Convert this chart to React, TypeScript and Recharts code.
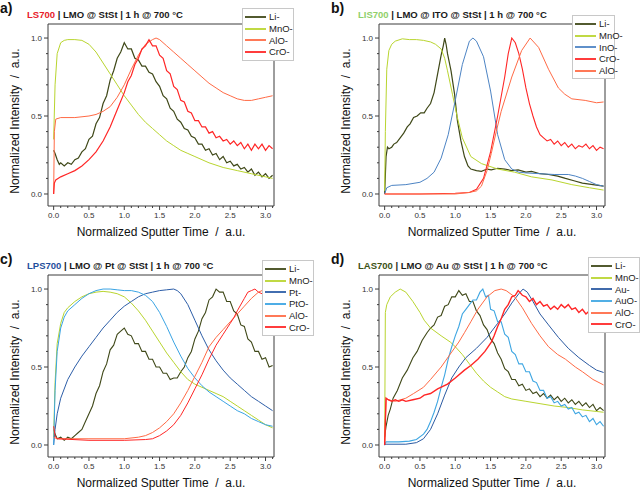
import React from 'react'
import { LineChart, Line, XAxis, YAxis, ReferenceLine } from 'recharts'

type Pt = [number, number]

// shared axis settings
const X_MIN = -0.08
const X_MAX = 3.12
const Y_MIN = -0.077
const Y_MAX = 1.09
const X_TICKS = [0, 0.1, 0.2, 0.3, 0.4, 0.5, 0.6, 0.7, 0.8, 0.9, 1, 1.1, 1.2, 1.3, 1.4, 1.5, 1.6, 1.7, 1.8, 1.9, 2, 2.1, 2.2, 2.3, 2.4, 2.5, 2.6, 2.7, 2.8, 2.9, 3, 3.1]
const X_LABELS = [0, 0.5, 1, 1.5, 2, 2.5, 3]
const Y_TICKS = [0, 0.1, 0.2, 0.3, 0.4, 0.5, 0.6, 0.7, 0.8, 0.9, 1]
const Y_LABELS = [0, 0.5, 1]

// colours
const LI = '#3f4818'
const MNO = '#b9d52f'
const ALO = '#ff6a45'
const CRO = '#ff2626'
const INO = '#4d84c4'
const PT = '#2d5ea8'
const PTO = '#3aa4e4'
const AU = '#2b5aa2'
const AUO = '#3ea6e2'

// ---- a) LS700 ----
const liA: Pt[] = [[0, 0.28], [0.02, 0.26], [0.05, 0.22], [0.08, 0.19], [0.1, 0.2], [0.15, 0.18], [0.2, 0.2], [0.25, 0.19], [0.3, 0.22], [0.35, 0.23], [0.4, 0.27], [0.45, 0.29], [0.5, 0.35], [0.55, 0.37], [0.6, 0.45], [0.65, 0.49], [0.7, 0.58], [0.75, 0.63], [0.8, 0.73], [0.85, 0.79], [0.9, 0.87], [0.95, 0.91], [1.0, 0.97], [1.05, 0.93], [1.1, 0.93], [1.15, 0.87], [1.2, 0.86], [1.25, 0.82], [1.3, 0.82], [1.35, 0.78], [1.4, 0.77], [1.45, 0.72], [1.5, 0.69], [1.55, 0.63], [1.6, 0.61], [1.65, 0.55], [1.7, 0.53], [1.75, 0.48], [1.8, 0.46], [1.85, 0.42], [1.9, 0.41], [1.95, 0.37], [2.0, 0.36], [2.05, 0.32], [2.1, 0.32], [2.15, 0.28], [2.2, 0.29], [2.25, 0.25], [2.3, 0.26], [2.35, 0.22], [2.4, 0.24], [2.45, 0.2], [2.5, 0.21], [2.55, 0.18], [2.6, 0.19], [2.65, 0.16], [2.7, 0.17], [2.75, 0.14], [2.8, 0.16], [2.85, 0.12], [2.9, 0.14], [2.95, 0.11], [3.0, 0.13], [3.05, 0.1], [3.1, 0.12]]
const mnoA: Pt[] = [[0, 0.35], [0.02, 0.7], [0.05, 0.9], [0.1, 0.97], [0.15, 0.985], [0.2, 0.99], [0.3, 0.99], [0.4, 0.985], [0.5, 0.96], [0.6, 0.91], [0.7, 0.84], [0.8, 0.77], [0.9, 0.7], [1.0, 0.63], [1.1, 0.57], [1.2, 0.51], [1.3, 0.46], [1.4, 0.42], [1.5, 0.38], [1.6, 0.34], [1.7, 0.31], [1.8, 0.28], [1.9, 0.26], [2.0, 0.24], [2.2, 0.2], [2.4, 0.17], [2.6, 0.15], [2.8, 0.13], [3.0, 0.11], [3.1, 0.1]]
const aloA: Pt[] = [[0, 0], [0.01, 0.4], [0.03, 0.48], [0.1, 0.49], [0.3, 0.49], [0.5, 0.5], [0.6, 0.51], [0.7, 0.53], [0.8, 0.56], [0.9, 0.62], [1.0, 0.7], [1.1, 0.8], [1.2, 0.89], [1.3, 0.96], [1.4, 0.99], [1.45, 1.0], [1.5, 0.99], [1.6, 0.95], [1.7, 0.91], [1.8, 0.87], [1.9, 0.83], [2.0, 0.79], [2.1, 0.75], [2.2, 0.71], [2.3, 0.68], [2.4, 0.65], [2.5, 0.63], [2.6, 0.61], [2.7, 0.6], [2.8, 0.6], [2.9, 0.61], [3.0, 0.62], [3.1, 0.63]]
const croA: Pt[] = [[0, 0], [0.01, 0.07], [0.03, 0.09], [0.1, 0.11], [0.2, 0.13], [0.3, 0.15], [0.4, 0.18], [0.5, 0.22], [0.6, 0.27], [0.7, 0.34], [0.8, 0.43], [0.9, 0.54], [1.0, 0.65], [1.05, 0.72], [1.1, 0.76], [1.15, 0.83], [1.2, 0.87], [1.25, 0.93], [1.3, 0.95], [1.35, 0.99], [1.4, 0.95], [1.45, 0.95], [1.5, 0.89], [1.55, 0.87], [1.6, 0.79], [1.65, 0.77], [1.7, 0.69], [1.75, 0.67], [1.8, 0.6], [1.85, 0.59], [1.9, 0.53], [1.95, 0.52], [2.0, 0.47], [2.05, 0.47], [2.1, 0.43], [2.15, 0.43], [2.2, 0.39], [2.25, 0.4], [2.3, 0.36], [2.35, 0.37], [2.4, 0.34], [2.45, 0.35], [2.5, 0.32], [2.55, 0.34], [2.6, 0.31], [2.65, 0.33], [2.7, 0.29], [2.75, 0.32], [2.8, 0.28], [2.85, 0.32], [2.9, 0.29], [2.95, 0.32], [3.0, 0.28], [3.05, 0.31], [3.1, 0.29]]

// ---- b) LIS700 ----
const liB: Pt[] = [[0, 0], [0.02, 0.24], [0.04, 0.3], [0.06, 0.29], [0.1, 0.3], [0.13, 0.32], [0.17, 0.33], [0.22, 0.36], [0.27, 0.39], [0.32, 0.43], [0.36, 0.45], [0.41, 0.49], [0.46, 0.5], [0.51, 0.52], [0.56, 0.52], [0.6, 0.55], [0.65, 0.58], [0.7, 0.65], [0.75, 0.77], [0.8, 0.89], [0.83, 0.95], [0.85, 1.0], [0.87, 0.96], [0.89, 0.9], [0.94, 0.79], [0.99, 0.64], [1.03, 0.47], [1.08, 0.34], [1.13, 0.24], [1.18, 0.18], [1.22, 0.16], [1.3, 0.15], [1.37, 0.145], [1.45, 0.16], [1.51, 0.155], [1.6, 0.165], [1.7, 0.16], [1.8, 0.15], [1.89, 0.155], [2.0, 0.14], [2.08, 0.145], [2.2, 0.13], [2.32, 0.125], [2.45, 0.115], [2.56, 0.1], [2.68, 0.085], [2.8, 0.07], [2.95, 0.06], [3.1, 0.05]]
const mnoB: Pt[] = [[0, 0.02], [0.01, 0.4], [0.03, 0.8], [0.06, 0.92], [0.1, 0.96], [0.15, 0.98], [0.25, 0.995], [0.35, 0.99], [0.45, 0.99], [0.55, 0.985], [0.65, 0.975], [0.72, 0.96], [0.8, 0.93], [0.85, 0.87], [0.89, 0.79], [0.96, 0.64], [1.03, 0.49], [1.1, 0.36], [1.22, 0.24], [1.37, 0.195], [1.6, 0.16], [1.84, 0.14], [2.08, 0.11], [2.37, 0.09], [2.65, 0.06], [2.9, 0.04], [3.1, 0.025]]
const inoB: Pt[] = [[0, 0], [0.03, 0.04], [0.1, 0.055], [0.3, 0.06], [0.5, 0.075], [0.6, 0.1], [0.7, 0.14], [0.8, 0.23], [0.9, 0.38], [1.0, 0.6], [1.1, 0.83], [1.2, 0.98], [1.25, 1.0], [1.3, 0.98], [1.4, 0.88], [1.5, 0.66], [1.6, 0.38], [1.7, 0.22], [1.8, 0.16], [1.9, 0.14], [2.0, 0.135], [2.2, 0.13], [2.4, 0.125], [2.6, 0.125], [2.7, 0.115], [2.8, 0.1], [2.9, 0.08], [3.0, 0.06], [3.1, 0.05]]
const croB: Pt[] = [[0, 0], [0.5, 0], [1.0, 0.005], [1.2, 0.01], [1.3, 0.03], [1.4, 0.1], [1.5, 0.27], [1.6, 0.5], [1.7, 0.75], [1.75, 0.9], [1.8, 1.0], [1.85, 0.97], [1.9, 0.9], [1.95, 0.8], [2.0, 0.68], [2.05, 0.58], [2.1, 0.5], [2.15, 0.43], [2.2, 0.38], [2.25, 0.36], [2.3, 0.34], [2.35, 0.35], [2.4, 0.32], [2.45, 0.34], [2.5, 0.31], [2.55, 0.33], [2.6, 0.3], [2.65, 0.32], [2.7, 0.29], [2.75, 0.31], [2.8, 0.3], [2.85, 0.32], [2.9, 0.29], [2.95, 0.31], [3.0, 0.28], [3.05, 0.3], [3.1, 0.29]]
const aloB: Pt[] = [[0, 0], [1.0, 0], [1.2, 0.01], [1.3, 0.02], [1.37, 0.05], [1.45, 0.15], [1.51, 0.26], [1.58, 0.4], [1.65, 0.53], [1.8, 0.75], [1.94, 0.92], [2.06, 1.0], [2.18, 0.94], [2.32, 0.8], [2.46, 0.68], [2.55, 0.64], [2.65, 0.61], [2.84, 0.6], [3.0, 0.585], [3.1, 0.59]]

// ---- c) LPS700 ----
const liC: Pt[] = [[0, 0.1], [0.02, 0.07], [0.05, 0.04], [0.1, 0.05], [0.15, 0.03], [0.2, 0.05], [0.25, 0.04], [0.3, 0.06], [0.35, 0.08], [0.4, 0.1], [0.45, 0.15], [0.5, 0.2], [0.55, 0.25], [0.6, 0.33], [0.65, 0.38], [0.7, 0.47], [0.75, 0.52], [0.8, 0.61], [0.85, 0.64], [0.9, 0.71], [0.95, 0.73], [1.0, 0.75], [1.05, 0.71], [1.1, 0.7], [1.15, 0.65], [1.2, 0.65], [1.25, 0.6], [1.3, 0.6], [1.35, 0.55], [1.4, 0.55], [1.45, 0.5], [1.5, 0.5], [1.55, 0.46], [1.6, 0.46], [1.65, 0.42], [1.7, 0.43], [1.75, 0.43], [1.8, 0.47], [1.85, 0.5], [1.9, 0.56], [1.95, 0.6], [2.0, 0.68], [2.05, 0.73], [2.1, 0.81], [2.15, 0.85], [2.2, 0.93], [2.25, 0.95], [2.3, 1.0], [2.35, 0.98], [2.4, 0.98], [2.45, 0.92], [2.5, 0.92], [2.55, 0.86], [2.6, 0.84], [2.65, 0.77], [2.7, 0.76], [2.75, 0.68], [2.8, 0.66], [2.85, 0.6], [2.9, 0.6], [2.95, 0.55], [3.0, 0.56], [3.05, 0.5], [3.1, 0.51]]
const mnoC: Pt[] = [[0, 0.05], [0.02, 0.4], [0.05, 0.65], [0.1, 0.78], [0.15, 0.85], [0.2, 0.88], [0.3, 0.92], [0.4, 0.95], [0.5, 0.97], [0.6, 0.98], [0.7, 0.985], [0.8, 0.98], [0.9, 0.97], [1.0, 0.95], [1.1, 0.91], [1.2, 0.86], [1.3, 0.8], [1.4, 0.73], [1.5, 0.66], [1.6, 0.59], [1.7, 0.53], [1.8, 0.47], [1.9, 0.42], [2.0, 0.39], [2.1, 0.37], [2.2, 0.35], [2.3, 0.33], [2.4, 0.31], [2.5, 0.28], [2.6, 0.25], [2.7, 0.22], [2.8, 0.19], [2.9, 0.16], [3.0, 0.13], [3.1, 0.11]]
const ptC: Pt[] = [[0, 0], [0.02, 0.1], [0.05, 0.2], [0.1, 0.3], [0.2, 0.42], [0.3, 0.5], [0.4, 0.57], [0.5, 0.63], [0.6, 0.69], [0.7, 0.75], [0.8, 0.8], [0.9, 0.85], [1.0, 0.89], [1.1, 0.92], [1.2, 0.95], [1.3, 0.97], [1.4, 0.98], [1.5, 0.99], [1.6, 0.995], [1.7, 1.0], [1.75, 0.99], [1.8, 0.97], [1.9, 0.9], [2.0, 0.8], [2.1, 0.7], [2.2, 0.61], [2.3, 0.54], [2.4, 0.48], [2.5, 0.43], [2.6, 0.39], [2.7, 0.35], [2.8, 0.31], [2.9, 0.28], [3.0, 0.25], [3.1, 0.22]]
const ptoC: Pt[] = [[0, 0], [0.02, 0.35], [0.05, 0.6], [0.1, 0.75], [0.15, 0.82], [0.2, 0.86], [0.3, 0.9], [0.4, 0.94], [0.5, 0.97], [0.6, 0.99], [0.7, 1.0], [0.8, 1.0], [0.9, 0.995], [1.0, 0.99], [1.1, 0.99], [1.2, 0.98], [1.3, 0.96], [1.4, 0.92], [1.5, 0.85], [1.6, 0.76], [1.7, 0.66], [1.8, 0.57], [1.9, 0.49], [2.0, 0.43], [2.1, 0.38], [2.2, 0.34], [2.3, 0.31], [2.4, 0.28], [2.5, 0.25], [2.6, 0.22], [2.7, 0.2], [2.8, 0.17], [2.9, 0.15], [3.0, 0.13], [3.1, 0.12]]
const aloC: Pt[] = [[0, 0.05], [0.05, 0.04], [0.5, 0.04], [1.0, 0.04], [1.2, 0.05], [1.3, 0.06], [1.4, 0.08], [1.5, 0.11], [1.6, 0.15], [1.7, 0.2], [1.8, 0.27], [1.9, 0.35], [2.0, 0.44], [2.1, 0.53], [2.2, 0.63], [2.3, 0.69], [2.4, 0.74], [2.5, 0.79], [2.6, 0.84], [2.7, 0.89], [2.8, 0.94], [2.9, 0.98], [3.0, 1.0], [3.1, 0.99]]
const croC: Pt[] = [[0, 0.12], [0.02, 0.06], [0.05, 0.04], [0.5, 0.03], [1.0, 0.03], [1.3, 0.035], [1.4, 0.04], [1.5, 0.06], [1.6, 0.09], [1.7, 0.13], [1.8, 0.19], [1.9, 0.27], [2.0, 0.36], [2.1, 0.45], [2.2, 0.55], [2.3, 0.64], [2.4, 0.71], [2.5, 0.78], [2.55, 0.815], [2.6, 0.86], [2.7, 0.94], [2.75, 0.98], [2.8, 0.99], [2.85, 1.0], [2.9, 0.98], [3.0, 0.96], [3.1, 0.95]]

// ---- d) LAS700 ----
const liD: Pt[] = [[0, 0.05], [0.02, 0.12], [0.05, 0.19], [0.08, 0.23], [0.12, 0.3], [0.18, 0.35], [0.25, 0.43], [0.32, 0.48], [0.4, 0.56], [0.46, 0.6], [0.53, 0.67], [0.6, 0.72], [0.65, 0.75], [0.7, 0.77], [0.75, 0.82], [0.8, 0.83], [0.85, 0.89], [0.9, 0.9], [0.95, 0.95], [1.0, 0.95], [1.05, 0.99], [1.1, 0.96], [1.15, 0.97], [1.2, 0.92], [1.25, 0.92], [1.3, 0.86], [1.35, 0.83], [1.4, 0.77], [1.45, 0.74], [1.5, 0.68], [1.55, 0.65], [1.6, 0.59], [1.65, 0.55], [1.7, 0.49], [1.75, 0.47], [1.8, 0.42], [1.85, 0.42], [1.9, 0.38], [1.95, 0.39], [2.0, 0.35], [2.05, 0.36], [2.1, 0.33], [2.15, 0.34], [2.2, 0.31], [2.25, 0.33], [2.3, 0.3], [2.35, 0.32], [2.4, 0.29], [2.45, 0.31], [2.5, 0.28], [2.55, 0.3], [2.6, 0.27], [2.65, 0.29], [2.7, 0.26], [2.75, 0.28], [2.8, 0.25], [2.85, 0.27], [2.9, 0.24], [2.95, 0.26], [3.0, 0.22], [3.05, 0.24], [3.1, 0.22]]
const mnoD: Pt[] = [[0, 0], [0.01, 0.85], [0.03, 0.9], [0.08, 0.95], [0.15, 0.98], [0.22, 1.0], [0.3, 0.98], [0.4, 0.92], [0.5, 0.85], [0.56, 0.8], [0.65, 0.75], [0.8, 0.7], [0.93, 0.66], [1.0, 0.63], [1.1, 0.58], [1.2, 0.52], [1.3, 0.46], [1.4, 0.41], [1.5, 0.37], [1.6, 0.34], [1.7, 0.31], [1.8, 0.295], [2.0, 0.28], [2.2, 0.265], [2.4, 0.25], [2.6, 0.24], [2.8, 0.225], [3.0, 0.215], [3.1, 0.21]]
const auD: Pt[] = [[0, 0], [0.02, 0.005], [0.3, 0.005], [0.45, 0.015], [0.55, 0.04], [0.65, 0.1], [0.75, 0.2], [0.85, 0.32], [0.95, 0.43], [1.05, 0.5], [1.15, 0.56], [1.3, 0.62], [1.45, 0.69], [1.6, 0.78], [1.7, 0.84], [1.8, 0.91], [1.9, 0.97], [1.96, 1.0], [2.02, 0.98], [2.1, 0.92], [2.2, 0.84], [2.32, 0.77], [2.46, 0.69], [2.6, 0.62], [2.75, 0.56], [2.9, 0.51], [3.0, 0.48], [3.1, 0.465]]
const auoD: Pt[] = [[0, 0], [0.02, 0.02], [0.2, 0.02], [0.35, 0.025], [0.45, 0.035], [0.55, 0.07], [0.6, 0.1], [0.65, 0.15], [0.7, 0.21], [0.75, 0.28], [0.8, 0.37], [0.85, 0.45], [0.9, 0.55], [0.95, 0.63], [1.0, 0.7], [1.05, 0.76], [1.1, 0.84], [1.15, 0.87], [1.2, 0.9], [1.25, 0.93], [1.3, 0.93], [1.35, 0.98], [1.39, 1.0], [1.43, 0.95], [1.47, 0.96], [1.5, 0.87], [1.55, 0.86], [1.6, 0.79], [1.65, 0.79], [1.7, 0.71], [1.75, 0.69], [1.8, 0.6], [1.85, 0.58], [1.9, 0.52], [1.95, 0.52], [2.0, 0.47], [2.05, 0.47], [2.1, 0.41], [2.15, 0.4], [2.2, 0.35], [2.25, 0.35], [2.3, 0.3], [2.35, 0.31], [2.4, 0.27], [2.45, 0.28], [2.5, 0.25], [2.55, 0.26], [2.6, 0.23], [2.65, 0.24], [2.7, 0.2], [2.75, 0.21], [2.8, 0.18], [2.85, 0.19], [2.9, 0.15], [2.95, 0.17], [3.0, 0.13], [3.05, 0.15], [3.1, 0.12]]
const aloD: Pt[] = [[0, 0], [0.02, 0.3], [0.05, 0.29], [0.15, 0.28], [0.3, 0.3], [0.41, 0.33], [0.55, 0.37], [0.65, 0.42], [0.8, 0.5], [0.94, 0.59], [1.05, 0.66], [1.13, 0.72], [1.22, 0.79], [1.32, 0.87], [1.45, 0.95], [1.56, 0.99], [1.65, 1.0], [1.72, 0.99], [1.84, 0.95], [1.95, 0.88], [2.08, 0.78], [2.2, 0.7], [2.32, 0.63], [2.45, 0.58], [2.56, 0.55], [2.7, 0.5], [2.8, 0.47], [2.95, 0.42], [3.1, 0.385]]
const croD: Pt[] = [[0, 0], [0.02, 0.3], [0.05, 0.29], [0.1, 0.28], [0.15, 0.29], [0.2, 0.28], [0.25, 0.29], [0.3, 0.28], [0.4, 0.29], [0.5, 0.3], [0.56, 0.32], [0.65, 0.33], [0.75, 0.36], [0.89, 0.39], [1.0, 0.43], [1.13, 0.48], [1.22, 0.51], [1.32, 0.55], [1.42, 0.6], [1.51, 0.66], [1.55, 0.7], [1.6, 0.76], [1.65, 0.81], [1.7, 0.87], [1.75, 0.9], [1.8, 0.95], [1.85, 0.96], [1.89, 0.99], [1.95, 0.96], [2.0, 0.95], [2.05, 0.92], [2.1, 0.94], [2.15, 0.9], [2.2, 0.92], [2.25, 0.89], [2.3, 0.9], [2.35, 0.87], [2.4, 0.89], [2.45, 0.87], [2.5, 0.9], [2.55, 0.88], [2.6, 0.9], [2.65, 0.87], [2.7, 0.88], [2.75, 0.85], [2.8, 0.87], [2.85, 0.84], [2.9, 0.86], [2.95, 0.83], [3.0, 0.85], [3.05, 0.82], [3.1, 0.83]]

const FONT = '"Liberation Sans", Arial, Helvetica, sans-serif'
const AXIS = '#3c3c3c'

interface Series {
  name: string
  color: string
  pts: Pt[]
  w?: number
}

interface PanelProps {
  left: number
  top: number
  tag: string
  code: string
  codeColor: string
  rest: string
  series: Series[]
  legend: { left: number; top: number; width: number }
}

function XTick({ x, y, payload }: any) {
  const v = payload.value
  const major = X_LABELS.includes(v)
  return (
    <g>
      <line x1={x} x2={x} y1={y} y2={y + (major ? 4 : 2)} stroke={AXIS} />
      {major && (
        <text x={x} y={y + 12} textAnchor="middle" fontSize={8} fill="#333" fontFamily={FONT}>
          {v.toFixed(1)}
        </text>
      )}
    </g>
  )
}

function YTick({ x, y, payload }: any) {
  const v = payload.value
  const major = Y_LABELS.includes(v)
  return (
    <g>
      <line x1={x} x2={x - (major ? 4 : 2)} y1={y} y2={y} stroke={AXIS} />
      {major && (
        <text x={x - 6} y={y + 3} textAnchor="end" fontSize={8} fill="#333" fontFamily={FONT}>
          {v.toFixed(1)}
        </text>
      )}
    </g>
  )
}

function Panel({ left, top, tag, code, codeColor, rest, series, legend }: PanelProps) {
  return (
    <div style={{ position: 'absolute', left, top, width: 320, height: 247, fontFamily: FONT }}>
      <LineChart width={320} height={247} margin={{ top: 24, right: 46, bottom: 21, left: 18 }}>
        <XAxis
          type="number"
          dataKey="t"
          domain={[X_MIN, X_MAX]}
          allowDataOverflow
          ticks={X_TICKS}
          interval={0}
          tickSize={0}
          tickMargin={0}
          tickLine={false}
          tick={(p: any) => <XTick {...p} />}
          height={20}
          stroke={AXIS}
        />
        <YAxis
          type="number"
          domain={[Y_MIN, Y_MAX]}
          allowDataOverflow
          ticks={Y_TICKS}
          interval={0}
          tickSize={0}
          tickMargin={0}
          tickLine={false}
          tick={(p: any) => <YTick {...p} />}
          width={30}
          stroke={AXIS}
        />
        <ReferenceLine y={Y_MAX} stroke={AXIS} ifOverflow="visible" />
        <ReferenceLine x={X_MAX} stroke={AXIS} ifOverflow="visible" />
        {series.map((s) => (
          <Line
            key={s.name}
            name={s.name}
            data={s.pts.map(([t, v]) => ({ t, v }))}
            dataKey="v"
            type="linear"
            stroke={s.color}
            strokeWidth={s.w ?? 1}
            dot={false}
            isAnimationActive={false}
          />
        ))}
      </LineChart>

      <div style={{ position: 'absolute', left: 0, top: 0, fontSize: 14, fontWeight: 'bold', color: '#111', lineHeight: '16px' }}>
        {tag}
      </div>
      <div style={{ position: 'absolute', left: 27, top: 9, fontSize: 9.5, fontWeight: 'bold', color: '#1a1a1a', whiteSpace: 'nowrap', lineHeight: '12px' }}>
        <span style={{ color: codeColor }}>{code}</span>
        {rest}
      </div>

      <div
        style={{
          position: 'absolute',
          left: 161,
          top: 232,
          transform: 'translate(-50%, -50%)',
          fontSize: 12,
          color: '#111',
          whiteSpace: 'pre',
        }}
      >
        {'Normalized Sputter Time  /  a.u.'}
      </div>
      <div
        style={{
          position: 'absolute',
          left: 15,
          top: 121,
          transform: 'translate(-50%, -50%) rotate(-90deg)',
          fontSize: 12,
          color: '#111',
          whiteSpace: 'pre',
        }}
      >
        {'Normalized Intensity  /  a.u.'}
      </div>

      <div
        style={{
          position: 'absolute',
          left: legend.left,
          top: legend.top,
          width: legend.width,
          background: '#fff',
          border: '1px solid #c8c8c8',
          padding: '2px 0 2px 2px',
          boxSizing: 'border-box',
        }}
      >
        {series.map((s) => (
          <div key={s.name} style={{ display: 'flex', alignItems: 'center', height: 11.7, fontSize: 9.5, color: '#222' }}>
            <svg width={22} height={4} style={{ marginRight: 2, flex: 'none' }}>
              <line x1={0} x2={21} y1={2} y2={2} stroke={s.color} strokeWidth={1.8} />
            </svg>
            <span>{s.name}</span>
          </div>
        ))}
      </div>
    </div>
  )
}

export default function App() {
  return (
    <div style={{ position: 'absolute', left: 0, top: 0, width: 640, height: 493, background: '#fff', overflow: 'hidden' }}>
      <Panel
        left={0}
        top={0}
        tag="a)"
        code="LS700"
        codeColor="#e8202a"
        rest=" | LMO @ StSt | 1 h @ 700 °C"
        legend={{ left: 242, top: 8, width: 52 }}
        series={[
          { name: 'Li-', color: LI, pts: liA, w: 1.2 },
          { name: 'MnO-', color: MNO, pts: mnoA },
          { name: 'AlO-', color: ALO, pts: aloA },
          { name: 'CrO-', color: CRO, pts: croA, w: 1.2 },
        ]}
      />
      <Panel
        left={331}
        top={0}
        tag="b)"
        code="LIS700"
        codeColor="#8fd06a"
        rest=" | LMO @ ITO @ StSt | 1 h @ 700 °C"
        legend={{ left: 241, top: 15, width: 43 }}
        series={[
          { name: 'Li-', color: LI, pts: liB, w: 1.2 },
          { name: 'MnO-', color: MNO, pts: mnoB },
          { name: 'InO-', color: INO, pts: inoB },
          { name: 'CrO-', color: CRO, pts: croB, w: 1.1 },
          { name: 'AlO-', color: ALO, pts: aloB },
        ]}
      />
      <Panel
        left={0}
        top={251}
        tag="c)"
        code="LPS700"
        codeColor="#1f4f9c"
        rest=" | LMO @ Pt @ StSt | 1 h @ 700 °C"
        legend={{ left: 262, top: 9, width: 52 }}
        series={[
          { name: 'Li-', color: LI, pts: liC, w: 1.1 },
          { name: 'MnO-', color: MNO, pts: mnoC },
          { name: 'Pt-', color: PT, pts: ptC },
          { name: 'PtO-', color: PTO, pts: ptoC },
          { name: 'AlO-', color: ALO, pts: aloC },
          { name: 'CrO-', color: CRO, pts: croC },
        ]}
      />
      <Panel
        left={331}
        top={251}
        tag="d)"
        code="LAS700"
        codeColor="#3d5216"
        rest=" | LMO @ Au @ StSt | 1 h @ 700 °C"
        legend={{ left: 257, top: 6, width: 52 }}
        series={[
          { name: 'Li-', color: LI, pts: liD, w: 1.1 },
          { name: 'MnO-', color: MNO, pts: mnoD },
          { name: 'Au-', color: AU, pts: auD },
          { name: 'AuO-', color: AUO, pts: auoD, w: 1.1 },
          { name: 'AlO-', color: ALO, pts: aloD },
          { name: 'CrO-', color: CRO, pts: croD, w: 1.4 },
        ]}
      />
    </div>
  )
}
